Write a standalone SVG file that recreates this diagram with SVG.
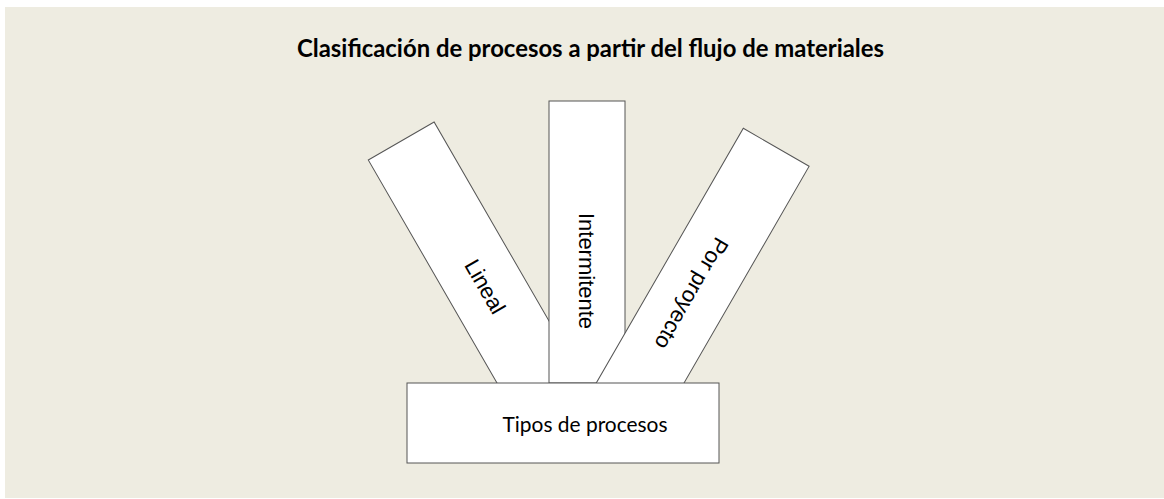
<svg xmlns="http://www.w3.org/2000/svg" width="1164" height="499" viewBox="0 0 1164 499">
  <style>
    .box { fill: #FFFFFF; stroke: #555555; stroke-width: 1; }
    .lbl { font-family: "Liberation Sans", Arial, sans-serif; font-size: 22px; fill: #000000; }
    .base { font-family: Lato, "Liberation Sans", sans-serif; font-size: 21px; fill: #000000; }
    .title { font-family: Lato, "Liberation Sans", sans-serif; font-size: 24px; font-weight: bold; fill: #000000; }
  </style>
  <rect x="5" y="7" width="1159" height="491" fill="#EEECE1"/>
  <text class="title" x="297" y="57" textLength="587" lengthAdjust="spacingAndGlyphs">Clasificación de procesos a partir del flujo de materiales</text>
  <g id="connectors"></g>
  <g id="node-lineal" transform="translate(368.3,160) rotate(-30)">
    <rect class="box" x="0" y="0" width="76" height="300"/>
    <text class="lbl" transform="translate(38,168) rotate(90)" text-anchor="middle" dy="0.35em">Lineal</text>
  </g>
  <g id="node-intermitente">
    <rect class="box" x="549" y="101" width="76" height="282"/>
    <text class="lbl" transform="translate(587,271) rotate(90)" text-anchor="middle" dy="0.35em">Intermitente</text>
  </g>
  <g id="node-proyecto" transform="translate(743.3,128.3) rotate(30)">
    <rect class="box" x="0" y="0" width="76" height="300"/>
    <text class="lbl" transform="translate(38,169) rotate(90)" text-anchor="middle" dy="0.35em">Por proyecto</text>
  </g>
  <g id="node-tipos">
    <rect class="box" x="407" y="383" width="312" height="80"/>
    <text class="base" x="585" y="431.5" text-anchor="middle" textLength="165" lengthAdjust="spacingAndGlyphs">Tipos de procesos</text>
  </g>
</svg>
